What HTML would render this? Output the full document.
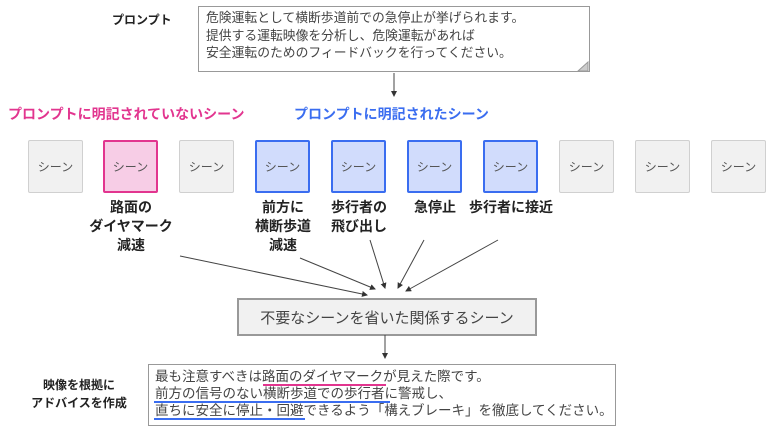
<!DOCTYPE html>
<html><head><meta charset="utf-8"><style>
body{margin:0;width:775px;height:430px;background:#fff;position:relative;overflow:hidden;font-family:"Liberation Sans","Noto Sans CJK JP",sans-serif;color:#333}
.a{position:absolute}
.sc{position:absolute;top:140px;width:53px;height:51px;background:#f1f1f1;border:1.5px solid #d0d0d0;border-radius:2px;font-size:12px;color:#555;display:flex;align-items:center;justify-content:center}
.pk{background:#f7cde6;border:2.5px solid #e2358f;width:51px;height:49px}
.bl{background:#d1dcfc;border:2.5px solid #3a6df0;width:51px;height:49px}
.lb{position:absolute;top:198px;font-size:14px;font-weight:bold;line-height:19px;text-align:center;color:#222;width:110px}
.doc{position:absolute;border:1.5px solid #999;background:#fff}
</style></head><body>
<div class="a" style="left:112px;top:11px;font-size:12px;font-weight:bold;color:#222">プロンプト</div>
<div class="doc" style="left:198px;top:6px;width:390px;height:64px"></div>
<div class="a" style="left:206px;top:9px;font-size:12.8px;line-height:17.5px;color:#444">危険運転として横断歩道前での急停止が挙げられます。<br>提供する運転映像を分析し、危険運転があれば<br>安全運転のためのフィードバックを行ってください。</div>
<div class="a" style="left:8px;top:104px;font-size:14px;font-weight:bold;color:#e2358f">プロンプトに明記されていないシーン</div>
<div class="a" style="left:294px;top:104px;font-size:14px;font-weight:bold;color:#3a6df0">プロンプトに明記されたシーン</div>
<div class="sc" style="left:28px">シーン</div>
<div class="sc pk" style="left:103px">シーン</div>
<div class="sc" style="left:179px">シーン</div>
<div class="sc bl" style="left:255px">シーン</div>
<div class="sc bl" style="left:331px">シーン</div>
<div class="sc bl" style="left:407px">シーン</div>
<div class="sc bl" style="left:483px">シーン</div>
<div class="sc" style="left:559px">シーン</div>
<div class="sc" style="left:635px">シーン</div>
<div class="sc" style="left:711px">シーン</div>
<div class="lb" style="left:76px">路面の<br>ダイヤマーク<br>減速</div>
<div class="lb" style="left:228px">前方に<br>横断歩道<br>減速</div>
<div class="lb" style="left:304px">歩行者の<br>飛び出し</div>
<div class="lb" style="left:380px">急停止</div>
<div class="lb" style="left:456px">歩行者に接近</div>
<div class="a" style="left:237px;top:298px;width:296px;height:34px;background:#f1f1f1;border:2px solid #999;font-size:15px;color:#444;display:flex;align-items:center;justify-content:center">不要なシーンを省いた関係するシーン</div>
<div class="a" style="left:20px;top:376px;width:118px;text-align:center;font-size:12px;font-weight:bold;line-height:18px;color:#222">映像を根拠に<br>アドバイスを作成</div>
<div class="doc" style="left:148px;top:364px;width:466px;height:60px"></div>
<div class="a" style="left:155px;top:368px;font-size:13.5px;line-height:17px;color:#444;white-space:nowrap">最も注意すべきは路面のダイヤマークが見えた際です。<br>前方の信号のない横断歩道での歩行者に警戒し、<br>直ちに安全に停止・回避できるよう「構えブレーキ」を徹底してください。</div>
<svg class="a" style="left:0;top:0;z-index:5" width="775" height="430">
<defs><marker id="m" markerWidth="6" markerHeight="6" refX="5" refY="3" orient="auto"><path d="M0,0L6,3L0,6z" fill="#333"/></marker></defs>
<g stroke="#444" stroke-width="1" fill="none" marker-end="url(#m)">
<line x1="394" y1="73" x2="394" y2="96"/>
<line x1="180" y1="256" x2="367" y2="295"/>
<line x1="300" y1="258" x2="375" y2="289"/>
<line x1="370" y1="240" x2="385" y2="288"/>
<line x1="424" y1="240" x2="398" y2="288"/>
<line x1="498" y1="240" x2="406" y2="291"/>
<line x1="385" y1="335" x2="385" y2="358"/>
</g>
<path d="M578,71 L588,62 L588,71 Z" fill="#ccc" stroke="#999"/>
<line x1="263" y1="385" x2="386" y2="385" stroke="#e2358f" stroke-width="2"/>
<line x1="154" y1="402" x2="390" y2="402" stroke="#3a6df0" stroke-width="2"/>
<line x1="154" y1="419" x2="305" y2="419" stroke="#3a6df0" stroke-width="2"/>
</svg>
</body></html>
